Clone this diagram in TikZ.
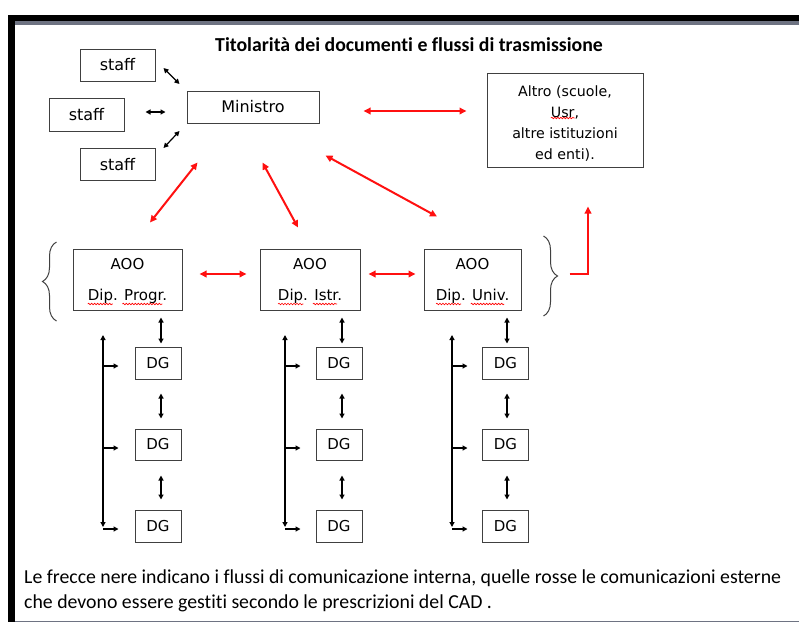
\documentclass[tikz,border=0pt]{standalone}
\usepackage{fontspec}
\setmainfont{DejaVu Sans}
\newfontfamily\capfont[Ligatures=NoCommon]{Carlito}
\usetikzlibrary{arrows.meta,decorations.pathreplacing,decorations.pathmorphing,calc}
\definecolor{boxgray}{HTML}{404040}
\definecolor{arrred}{HTML}{FF1010}
\definecolor{framegray}{HTML}{6E7382}
\begin{document}
\begin{tikzpicture}[x=1pt,y=-1pt,
 box/.style={draw=boxgray,line width=1pt,inner sep=0pt,align=center,font=\fontsize{16}{18}\selectfont},
 btxt/.style={inner sep=0pt,align=center,font=\fontsize{15}{18}\selectfont},
 blk/.style={{Triangle[length=5pt,width=5pt]}-{Triangle[length=5pt,width=5pt]},line width=1.2pt,black},
 blkone/.style={-{Triangle[length=5pt,width=5pt]},line width=1.2pt,black},
 redtw/.style={{Triangle[length=7pt,width=6.5pt]}-{Triangle[length=7pt,width=6.5pt]},line width=2pt,arrred},
 redone/.style={-{Triangle[length=7pt,width=6.5pt]},line width=2pt,arrred},
 brc/.style={decorate,decoration={brace,amplitude=14pt},draw=boxgray,line width=1pt},
 wave/.style={decorate,decoration={snake,amplitude=0.8pt,segment length=3pt},draw=red,line width=0.6pt},
]
\useasboundingbox (0,0) rectangle (799,624);
% frame
\fill[black] (8,15) rectangle (15,622);
\fill[black] (8,15) rectangle (799,21);
\fill[framegray] (15,21) rectangle (799,25);
\draw[framegray,line width=1pt] (15,621.5) -- (799,621.5);
% title
\node[font=\capfont\bfseries\fontsize{19.8}{22}\selectfont] (title) at (409,45) {Titolarità dei documenti e flussi di trasmissione};
% top nodes
\node[box,minimum width=75pt,minimum height=32pt] (s1) at (117.5,65) {staff};
\node[box,minimum width=75pt,minimum height=33pt] (s2) at (86.5,114.5) {staff};
\node[box,minimum width=75pt,minimum height=32pt] (s3) at (117.5,164.5) {staff};
\node[box,minimum width=132pt,minimum height=32pt] (min) at (253,107) {Ministro};
\node[box,minimum width=156pt,minimum height=94pt] (altro) at (565,120) {};
\node[btxt,font=\fontsize{14.2}{21.3}\selectfont] (altrot) at ($(altro.center)+(0,3.5)$) {Altro (scuole,\\Usr,\\altre istituzioni\\ed enti).};
\draw[wave] ($(altrot.center)+(-14.1,-5.5)$) -- ++(23.6,0);
% AOO
\node[box,minimum width=109pt,minimum height=61pt] (a1) at (127.5,279.5) {};
\node[box,minimum width=100pt,minimum height=61pt] (a2) at (310,279.5) {};
\node[box,minimum width=97pt,minimum height=61pt] (a3) at (472.5,279.5) {};
\foreach \n/\t in {a1/Progr.,a2/Istr.,a3/Univ.}{
  \node[btxt] (\n t1) at ($(\n.north)+(0,15.5)$) {AOO};
  \node[btxt] (\n t2) at ($(\n.north)+(0,48)$) {Dip. \t};
}
\foreach \n/\a/\b in {a1/-39.8/-5.1,a2/-31.9/2.9,a3/-36.5/-1.8}{
  \draw[wave] ($(\n t2.center)+(\a,7.5)$) -- ++(25.2,0);
}
\draw[wave] ($(a1t2.center)+(-5.1,7.5)$) -- ++(40,0);
\draw[wave] ($(a2t2.center)+(2.9,7.5)$) -- ++(24.3,0);
\draw[wave] ($(a3t2.center)+(-1.8,7.5)$) -- ++(33.5,0);
% DG
\foreach \c/\x in {1/158,2/339,3/505.5}{
  \node[box,font=\fontsize{15}{18}\selectfont,minimum width=46pt,minimum height=32pt] (d\c1) at (\x,363) {DG};
  \node[box,font=\fontsize{15}{18}\selectfont,minimum width=46pt,minimum height=31pt] (d\c2) at (\x,444.5) {DG};
  \node[box,font=\fontsize{15}{18}\selectfont,minimum width=46pt,minimum height=32pt] (d\c3) at (\x,526) {DG};
}
% staff arrows
\draw[blk] ($(s1.east)+(8,3)$) -- ($(min.west)+(-7,-23)$);
\draw[blk] ($(s2.east)+(21,-2.5)$) -- ($(min.west)+(-21,5)$);
\draw[blk] ($(s3.east)+(8,-16.5)$) -- ($(min.west)+(-7,24)$);
% red arrows
\draw[redtw] ($(min.east)+(44,4)$) -- ($(altro.west)+(-20,-9)$);
\draw[redtw] ($(min.south west)+(11,39)$) -- ($(a1.north)+(22.5,-26)$);
\draw[redtw] ($(min.south west)+(76,39)$) -- ($(a2.north)+(-12,-21)$);
\draw[redtw] ($(min.south west)+(139,32)$) -- ($(a3.north)+(-35.5,-32)$);
\draw[redtw] ($(a1.east)+(17,-5.5)$) -- ($(a2.west)+(-13,-5.5)$);
\draw[redtw] ($(a2.east)+(8,-5.5)$) -- ($(a3.west)+(-8,-5.5)$);
% braces
\draw[brc] ($(a1.west)+(-16,41.5)$) coordinate (lb1) -- ($(a1.west)+(-16,-37.5)$) coordinate (lb2);
\draw[brc] ($(a3.east)+(22,-43.5)$) coordinate (rb1) -- ($(a3.east)+(22,36.5)$) coordinate (rb2);
\coordinate (lstart) at ($(a3.east)+(48,-5.5)$);
\draw[redone] (lstart) -| ($(altro.south)+(23,39)$);
% vertical arrows
\foreach \c/\x in {1/161,2/342,3/507}{
  \draw[blk] (a\c.south -| \x,0) ++(0,7) -- ++(0,26);
  \draw[blk] (d\c1.south -| \x,0) ++(0,14) -- ++(0,25);
  \draw[blk] (d\c2.south -| \x,0) ++(0,15) -- ++(0,24);
}
% buses
\foreach \c/\x in {1/103,2/285,3/452}{
  \draw[blk] (\x,335) -- (\x,527);
  \draw[blkone] (d\c1.west -| \x,0) ++(0,3) -- ++(15.5,0);
  \draw[blkone] (d\c2.west -| \x,0) ++(0,3.5) -- ++(15.5,0);
  \draw[blkone] (d\c3.west -| \x,0) ++(0,3) -- ++(15.5,0);
}
% caption
\node[anchor=west,align=left,font=\capfont\fontsize{19.8}{25}\selectfont,inner sep=0pt] (cap) at (24,591) {Le frecce nere indicano i flussi di comunicazione interna, quelle rosse le comunicazioni esterne\\che devono essere gestiti secondo le prescrizioni del CAD .};
\end{tikzpicture}
\end{document}
